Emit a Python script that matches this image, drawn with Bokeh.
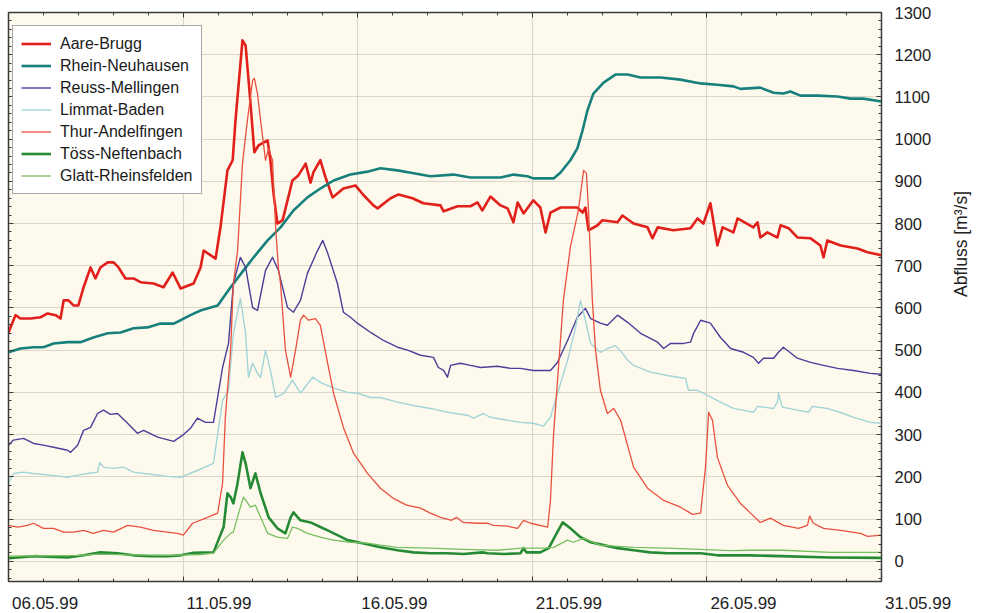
from bokeh.plotting import figure
from bokeh.layouts import column
from bokeh.models import (LinearAxis, Range1d, SingleIntervalTicker, Legend, LegendItem,
                          CustomJSTickFormatter, Div)
from bokeh.embed import file_html
from bokeh.resources import INLINE

# ---------------- data (x = days since 06.05.99, y = Abfluss m3/s) ----------------
x_tick_days = [0, 5, 10, 15, 20, 25]
x_tick_labels = ["06.05.99", "11.05.99", "16.05.99", "21.05.99", "26.05.99", "31.05.99"]

days_aare = [0.0, 0.20, 0.34, 0.63, 0.92, 1.12, 1.35, 1.49, 1.58, 1.72, 1.86, 2.00, 2.15, 2.35, 2.49,
             2.63, 2.84, 3.01, 3.15, 3.35, 3.58, 3.78, 4.15, 4.44, 4.70, 4.93, 5.30, 5.50, 5.59, 5.93,
             6.07, 6.27, 6.42, 6.50, 6.70, 6.79, 6.93, 7.04, 7.16, 7.42, 7.50, 7.59, 7.70, 7.85, 7.99,
             8.13, 8.30, 8.51, 8.65, 8.73, 8.93, 9.08, 9.28, 9.59, 9.94, 10.17, 10.45, 10.57, 10.94,
             11.17, 11.57, 11.88, 12.37, 12.46, 12.86, 13.23, 13.43, 13.57, 13.80, 14.09, 14.29, 14.46,
             14.58, 14.75, 15.03, 15.23, 15.38, 15.52, 15.81, 16.29, 16.44, 16.52, 16.61, 16.87, 17.01,
             17.44, 17.58, 17.90, 18.30, 18.44, 18.59, 19.04, 19.53, 19.73, 19.90, 20.10, 20.30, 20.45,
             20.76, 20.88, 21.33, 21.45, 21.53, 21.73, 22.02, 22.11, 22.34, 22.59, 22.97, 23.25, 23.34,
             23.45, 23.83, 24.31, 24.60, 25.0]
q_aare = [542, 583, 575, 575, 578, 587, 583, 575, 618, 618, 606, 606, 649, 696, 670,
          696, 708, 708, 696, 670, 670, 661, 658, 649, 684, 646, 658, 696, 736, 717,
          791, 926, 950, 1044, 1234, 1222, 1085, 969, 985, 997, 950, 871, 800, 808, 855,
          902, 914, 942, 897, 921, 950, 909, 862, 883, 890, 867, 843, 836, 860,
          869, 860, 848, 843, 829, 841, 841, 850, 831, 864, 843, 836, 803,
          850, 824, 855, 838, 779, 826, 838, 838, 826, 838, 784, 796, 808,
          803, 819, 800, 791, 765, 791, 784, 789, 812, 800, 848, 748, 791,
          779, 812, 791, 803, 767, 779, 767, 796, 789, 767, 765, 748, 720,
          760, 748, 741, 732, 725]

days_rhein = [0.0, 0.34, 0.72, 1.0, 1.29, 1.69, 2.06, 2.43, 2.84, 3.21, 3.58, 3.98, 4.35, 4.73, 4.93,
              5.21, 5.50, 5.99, 6.36, 6.73, 7.02, 7.42, 7.79, 8.16, 8.56, 8.93, 9.31, 9.79, 10.28,
              10.65, 11.14, 11.60, 12.08, 12.74, 13.23, 13.80, 14.09, 14.46, 14.86, 15.03, 15.61,
              15.81, 16.09, 16.29, 16.44, 16.58, 16.75, 17.04, 17.38, 17.73, 18.10, 18.67, 19.24,
              19.82, 20.30, 20.76, 20.96, 21.53, 21.91, 22.19, 22.39, 22.68, 23.17, 23.74, 24.11,
              24.48, 25.0]
q_rhein = [495, 504, 507, 507, 516, 519, 519, 530, 540, 542, 552, 554, 563, 563, 571,
           583, 594, 606, 649, 689, 720, 760, 791, 831, 862, 883, 902, 916, 923,
           931, 926, 919, 912, 916, 909, 909, 909, 916, 912, 907, 907,
           921, 950, 978, 1021, 1068, 1108, 1134, 1153, 1153, 1146, 1146, 1141,
           1132, 1129, 1125, 1119, 1122, 1110, 1108, 1113, 1103, 1103, 1101, 1096,
           1096, 1089]

days_reuss = [0.0, 0.14, 0.43, 0.72, 1.0, 1.29, 1.69, 1.78, 1.98, 2.15, 2.35, 2.55, 2.72, 2.92, 3.12,
              3.41, 3.69, 3.87, 4.27, 4.73, 4.98, 5.21, 5.41, 5.64, 5.87, 6.13, 6.30, 6.44, 6.64,
              6.79, 6.99, 7.13, 7.36, 7.56, 7.73, 7.99, 8.16, 8.36, 8.56, 8.85, 9.0, 9.14, 9.42,
              9.59, 9.79, 9.99, 10.37, 10.74, 11.14, 11.43, 11.80, 12.17, 12.31, 12.46, 12.57,
              12.66, 12.94, 13.23, 13.52, 14.0, 14.38, 14.66, 15.03, 15.52, 15.72, 16.01, 16.29,
              16.52, 16.67, 16.95, 17.15, 17.44, 17.73, 18.10, 18.38, 18.59, 18.76, 18.96, 19.33,
              19.53, 19.62, 19.82, 20.10, 20.39, 20.68, 21.05, 21.33, 21.48, 21.62, 21.91, 22.05,
              22.19, 22.59, 22.97, 23.34, 23.74, 24.20, 24.68, 25.0]
q_reuss = [275, 287, 291, 279, 275, 270, 263, 258, 275, 310, 317, 350, 358, 348, 350,
           327, 303, 310, 294, 284, 298, 315, 339, 329, 329, 459, 516, 658, 720,
           696, 601, 594, 689, 720, 689, 601, 590, 618, 682, 736, 760, 730, 658,
           590, 578, 564, 542, 523, 507, 500, 488, 483, 459, 452, 436,
           464, 469, 464, 459, 462, 457, 457, 452, 452, 471, 523, 578,
           599, 575, 564, 559, 583, 566, 540, 528, 519, 504, 516, 516,
           519, 540, 571, 564, 530, 504, 495, 483, 469, 481, 481, 495,
           507, 481, 471, 464, 457, 452, 445, 443]

days_limmat = [0.0, 0.14, 0.43, 0.72, 1.20, 1.69, 1.98, 2.26, 2.55, 2.61, 2.72, 3.01, 3.29, 3.58, 4.07,
               4.55, 4.93, 5.41, 5.87, 6.13, 6.30, 6.44, 6.64, 6.79, 6.87, 6.99, 7.13, 7.22, 7.36,
               7.50, 7.65, 7.88, 8.13, 8.36, 8.71, 8.93, 9.31, 9.71, 9.99, 10.37, 10.65, 11.14,
               11.60, 12.08, 12.57, 13.14, 13.32, 13.60, 13.80, 14.29, 14.66, 15.03, 15.32, 15.52,
               15.75, 16.01, 16.24, 16.38, 16.52, 16.67, 16.95, 17.15, 17.38, 17.58, 17.73, 17.90,
               18.38, 18.87, 19.39, 19.47, 19.73, 20.02, 20.39, 20.76, 21.33, 21.45, 21.91, 22.02,
               22.05, 22.16, 22.59, 22.91, 23.02, 23.45, 23.91, 24.20, 24.68, 25.0]
q_limmat = [185, 208, 211, 208, 204, 199, 204, 208, 211, 234, 223, 220, 223, 211, 206,
            201, 199, 215, 232, 381, 405, 540, 623, 540, 436, 469, 445, 436, 500,
            452, 388, 397, 429, 398, 436, 424, 410, 400, 398, 388, 388, 377,
            369, 362, 353, 346, 339, 350, 341, 334, 329, 327, 320, 341,
            405, 476, 554, 618, 571, 516, 495, 504, 511, 493, 476, 464,
            448, 440, 433, 405, 405, 393, 377, 362, 353, 367, 362, 377,
            398, 365, 358, 353, 367, 362, 350, 341, 329, 327]

days_thur = [0.0, 0.26, 0.54, 0.72, 1.0, 1.29, 1.58, 1.86, 2.15, 2.43, 2.72, 3.01, 3.41, 3.78, 4.15,
             4.55, 4.84, 5.01, 5.27, 5.70, 5.99, 6.13, 6.21, 6.36, 6.44, 6.56, 6.70, 6.84, 6.99,
             7.04, 7.13, 7.22, 7.36, 7.45, 7.56, 7.65, 7.73, 7.79, 7.93, 8.08, 8.22, 8.36, 8.45,
             8.59, 8.79, 8.93, 9.14, 9.31, 9.59, 9.88, 10.28, 10.65, 11.02, 11.40, 11.80, 12.08,
             12.37, 12.69, 12.83, 13.02, 13.43, 13.72, 13.89, 14.29, 14.58, 14.75, 14.95, 15.44,
             15.52, 15.61, 15.75, 15.89, 16.09, 16.32, 16.47, 16.55, 16.61, 16.72, 16.81, 16.95,
             17.15, 17.33, 17.53, 17.90, 18.30, 18.76, 19.24, 19.59, 19.82, 19.96, 20.05, 20.16,
             20.30, 20.59, 20.96, 21.25, 21.53, 21.82, 22.19, 22.62, 22.88, 22.94, 23.05, 23.34,
             23.83, 24.40, 24.60, 25.0]
q_thur = [85, 81, 85, 90, 78, 78, 69, 69, 73, 66, 73, 69, 85, 81, 73,
          69, 66, 62, 90, 104, 114, 185, 341, 500, 658, 736, 942, 1044, 1139,
          1144, 1108, 1044, 950, 978, 950, 791, 694, 658, 500, 436, 500, 571, 583,
          571, 575, 559, 469, 398, 317, 256, 208, 173, 149, 133, 126, 114,
          104, 97, 104, 92, 90, 90, 85, 83, 78, 97, 90, 81,
          144, 303, 459, 618, 744, 831, 926, 919, 831, 618, 500, 405,
          350, 362, 334, 223, 173, 144, 128, 111, 114, 223, 353, 334,
          246, 180, 137, 114, 92, 102, 85, 78, 85, 107, 90, 78,
          73, 66, 59, 62]

days_toess = [0.0, 0.72, 1.69, 2.15, 2.63, 3.12, 3.58, 4.07, 4.55, 4.93, 5.30, 5.87, 6.01, 6.16, 6.27,
              6.36, 6.44, 6.56, 6.70, 6.79, 6.93, 7.07, 7.22, 7.45, 7.70, 7.93, 8.08, 8.16, 8.36,
              8.65, 8.93, 9.14, 9.42, 9.71, 10.17, 10.65, 11.14, 11.60, 12.08, 12.57, 13.03, 13.57,
              13.72, 14.18, 14.66, 14.75, 14.83, 15.23, 15.47, 15.67, 15.87, 16.09, 16.38, 16.67,
              16.95, 17.44, 17.90, 18.38, 18.87, 19.33, 19.82, 20.30, 20.76, 21.25, 22.11, 23.54, 25.0]
q_toess = [7, 12, 9, 14, 21, 19, 14, 12, 12, 14, 20, 21, 50, 81, 161,
           152, 137, 185, 258, 232, 173, 208, 161, 104, 78, 66, 104, 116, 97,
           92, 81, 73, 62, 50, 42, 33, 26, 21, 19, 19, 17, 21,
           19, 17, 19, 31, 21, 21, 31, 62, 92, 78, 57, 45,
           40, 31, 26, 21, 19, 19, 19, 14, 14, 14, 12, 9, 8]

days_glatt = [0.0, 1.0, 2.0, 2.6, 3.5, 4.5, 5.5, 5.87, 6.16, 6.36, 6.44, 6.59, 6.73, 6.93, 7.07,
              7.22, 7.42, 7.70, 7.99, 8.13, 8.28, 8.56, 8.93, 9.31, 9.79, 10.28, 10.65, 11.14,
              12.08, 13.03, 14.0, 14.66, 15.29, 15.61, 16.01, 16.18, 16.47, 16.95, 17.90, 18.87,
              19.82, 20.68, 21.25, 22.19, 23.54, 25.0]
q_glatt = [12, 13, 14, 17, 15, 14, 16, 19, 50, 66, 69, 114, 152, 128, 133,
           104, 66, 57, 54, 81, 78, 66, 57, 50, 45, 43, 38, 33,
           31, 28, 26, 31, 31, 33, 50, 45, 54, 38, 33, 31,
           28, 25, 26, 26, 21, 21]

series = [
    ("Aare-Brugg", days_aare, q_aare, "#E2201B", 2.6),
    ("Rhein-Neuhausen", days_rhein, q_rhein, "#17807D", 2.6),
    ("Reuss-Mellingen", days_reuss, q_reuss, "#4B3E99", 1.4),
    ("Limmat-Baden", days_limmat, q_limmat, "#A3D4D8", 1.4),
    ("Thur-Andelfingen", days_thur, q_thur, "#E9503F", 1.3),
    ("Töss-Neftenbach", days_toess, q_toess, "#268A35", 2.6),
    ("Glatt-Rheinsfelden", days_glatt, q_glatt, "#78BF62", 1.3),
]

FONT = "Liberation Sans"
DARK = "#3a3a3a"
X_MIN, X_MAX = 0, 25
Y_MIN, Y_MAX = -48, 1300

# layout (pixels)
W = 985
B_LEFT, B_RIGHT, B_TOP, B_BOTTOM = 8, 104, 12, 8
H_MAIN, H_DATES = 589, 24
FRAME_W = W - B_LEFT - B_RIGHT

p = figure(width=W, height=H_MAIN, output_backend="svg", toolbar_location=None,
           x_range=Range1d(X_MIN, X_MAX), y_range=Range1d(Y_MIN, Y_MAX),
           y_axis_location="right", x_axis_location="below",
           min_border_left=B_LEFT, min_border_top=B_TOP, min_border_bottom=B_BOTTOM,
           min_border_right=B_RIGHT)

p.background_fill_color = "#FDFAED"
p.border_fill_color = "white"
p.outline_line_color = DARK
p.outline_line_width = 1.5

yticker = SingleIntervalTicker(interval=100, num_minor_ticks=5)
xticker = SingleIntervalTicker(interval=5, num_minor_ticks=5)
blank = CustomJSTickFormatter(code="return '';")


def tick_style(ax):
    ax.major_tick_in = 5
    ax.major_tick_out = 0
    ax.minor_tick_in = 3
    ax.minor_tick_out = 0
    ax.axis_line_color = DARK
    ax.major_tick_line_color = DARK
    ax.minor_tick_line_color = DARK


# right axis with labels and title
ya = p.yaxis[0]
ya.ticker = yticker
tick_style(ya)
ya.major_label_text_font = FONT
ya.major_label_text_font_size = "16.5px"
ya.major_label_text_color = "#222222"
ya.major_label_standoff = 13
ya.axis_label = "Abfluss [m³/s]"
ya.axis_label_text_font = FONT
ya.axis_label_text_font_size = "17.5px"
ya.axis_label_text_font_style = "normal"
ya.axis_label_text_color = "#222222"
ya.axis_label_standoff = 27
ya.axis_label_orientation = 1.5708

# bottom axis: ticks only (dates are written left-aligned below)
xa = p.xaxis[0]
xa.ticker = xticker
tick_style(xa)
xa.formatter = blank
xa.major_label_text_font_size = "1px"
xa.major_label_standoff = 0

# left and top axes: ticks only
for place, tk in (("left", yticker), ("above", xticker)):
    ax = LinearAxis(ticker=tk, formatter=blank, major_label_text_font_size="1px",
                    major_label_standoff=0)
    tick_style(ax)
    p.add_layout(ax, place)

p.xgrid.ticker = xticker
p.ygrid.ticker = yticker
p.xgrid.grid_line_color = "#DBD6CA"
p.ygrid.grid_line_color = "#DBD6CA"
p.xgrid.grid_line_width = 1.2
p.ygrid.grid_line_width = 1.2

items = []
for name, xs, ys, color, lw in series:
    r = p.line(xs, ys, line_color=color, line_width=lw, line_join="round")
    items.append(LegendItem(label=name, renderers=[r]))

legend = Legend(items=items, location=(4, 387))
legend.label_text_font = FONT
legend.label_text_font_size = "16px"
legend.label_text_color = "#1a1a1a"
legend.label_standoff = 9
legend.glyph_width = 30
legend.glyph_height = 19
legend.label_height = 19
legend.spacing = 3
legend.padding = 8
legend.margin = 0
legend.border_line_color = "#4d4d4d"
legend.border_line_width = 1.5
legend.background_fill_color = "white"
legend.background_fill_alpha = 1.0
p.add_layout(legend)

# strip below the plot with the date labels, left-aligned at their tick positions
px_per_day = FRAME_W / (X_MAX - X_MIN)
spans = []
for d, t in zip(x_tick_days, x_tick_labels):
    left = B_LEFT + (d - X_MIN) * px_per_day - 1
    spans.append(
        f'<span style="position:absolute;left:{left:.1f}px;top:1px;white-space:nowrap;'
        f'font-family:\'{FONT}\';font-size:17px;line-height:17px;color:#222222;">{t}</span>')
dates = Div(text=f'<div style="position:relative;width:{W}px;height:{H_DATES}px;">'
                 + "".join(spans) + "</div>",
            width=W, height=H_DATES)

layout = column(p, dates, spacing=0)
open("out.html", "w").write(file_html(layout, INLINE))
